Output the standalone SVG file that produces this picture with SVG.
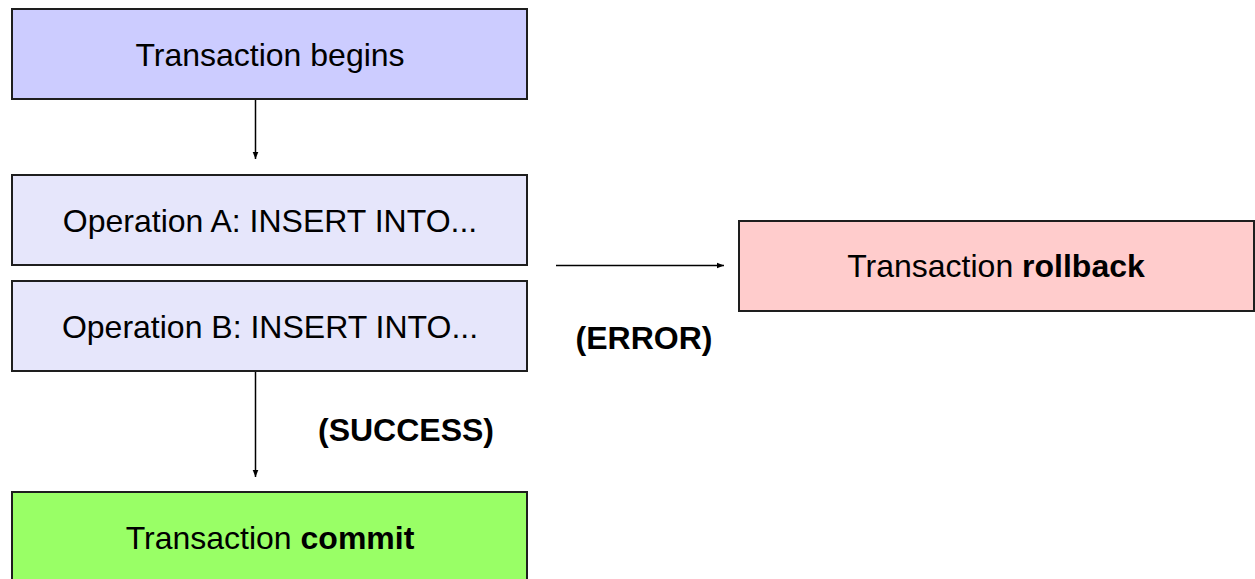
<svg xmlns="http://www.w3.org/2000/svg" width="1255" height="579" viewBox="0 0 1255 579">
<defs>
<style>
.box{stroke:#1e1e1e;stroke-width:2}
.t{font-family:"Liberation Sans",Arial,sans-serif;font-size:32px;fill:#000;text-anchor:middle}
.b{font-weight:bold}
.c{stroke:#000;stroke-width:1.5;fill:none}
</style>
<marker id="ah" markerWidth="8" markerHeight="8" refX="7" refY="4" orient="auto" markerUnits="userSpaceOnUse">
<path d="M0,1.2 L7,4 L0,6.8 Z" fill="#000"/>
</marker>
</defs>
<rect width="1255" height="579" fill="#fff"/>
<g id="connectors">
<line class="c" x1="255.5" y1="99" x2="255.5" y2="159" marker-end="url(#ah)"/>
<line class="c" x1="255.5" y1="371" x2="255.5" y2="477" marker-end="url(#ah)"/>
<line class="c" x1="556" y1="265.5" x2="724" y2="265.5" marker-end="url(#ah)"/>
<text class="t b" x="644" y="349">(ERROR)</text>
<text class="t b" x="406" y="441">(SUCCESS)</text>
</g>
<g id="begin">
<rect class="box" x="12" y="9" width="515" height="90" fill="#ccccff"/>
<text class="t" x="270" y="66">Transaction begins</text>
</g>
<g id="opA">
<rect class="box" x="12" y="175" width="515" height="90" fill="#e6e6fb"/>
<text class="t" x="270" y="232">Operation A: INSERT INTO...</text>
</g>
<g id="opB">
<rect class="box" x="12" y="281" width="515" height="90" fill="#e6e6fb"/>
<text class="t" x="270" y="338">Operation B: INSERT INTO...</text>
</g>
<g id="rollback">
<rect class="box" x="739" y="221" width="515" height="90" fill="#ffcccc"/>
<text class="t" x="996" y="277">Transaction <tspan class="b">rollback</tspan></text>
</g>
<g id="commit">
<rect class="box" x="12" y="492" width="515" height="92" fill="#99ff66"/>
<text class="t" x="270" y="549">Transaction <tspan class="b">commit</tspan></text>
</g>
</svg>
